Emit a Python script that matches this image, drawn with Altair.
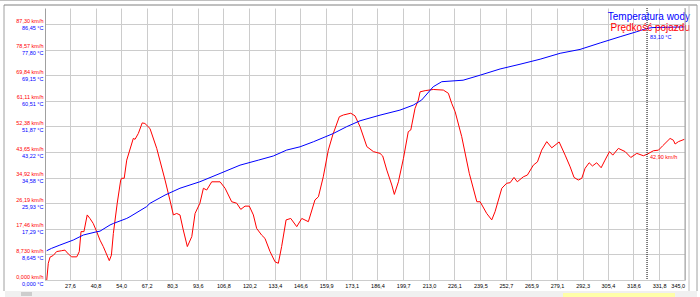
import altair as alt
import pandas as pd

# ---- data ----
speed_x = [15.6, 16.4, 17.3, 19.0, 20.7, 23.3, 25.0, 26.7, 28.5, 31.1, 32.4, 33.3, 34.8, 36.5, 37.9,
           39.6, 41.4, 43.1, 44.8, 47.9, 49.0, 50.0, 52.0, 53.8, 54.3, 55.6, 56.9, 60.3, 61.2, 62.9,
           64.9, 66.3, 68.9, 72.4, 76.7, 79.2, 81.0, 82.7, 84.4, 86.1, 88.2, 90.5, 92.2, 94.7, 96.5,
           98.2, 100.8, 105.1, 107.7, 111.1, 113.7, 115.8, 118.0, 120.2, 122.3, 124.0, 126.6, 128.3,
           130.9, 133.5, 135.2, 136.9, 139.2, 141.6, 144.7, 147.3, 150.7, 154.1, 155.9, 158.4, 161.0,
           163.3, 166.7, 168.8, 172.6, 174.8, 177.4, 180.9, 184.3, 187.7, 189.1, 191.2, 193.8, 195.1,
           197.2, 199.8, 202.3, 203.6, 205.8, 207.5, 208.4, 211.0, 215.2, 220.4, 223.0, 224.7, 226.5,
           229.9, 233.8, 237.7, 239.4, 242.8, 245.4, 247.1, 250.6, 253.1, 254.9, 256.9, 258.6, 261.7,
           263.8, 266.9, 269.0, 271.2, 273.8, 276.4, 280.2, 283.3, 285.9, 287.9, 290.1, 291.9, 293.6,
           295.7, 297.4, 299.6, 301.9, 303.9, 306.2, 307.9, 310.8, 314.3, 317.2, 320.3, 323.7, 325.6,
           328.9, 331.5, 333.7, 337.5, 339.2, 340.1, 341.8, 344.9]
speed_kmh = [0.0, 5.7, 7.8, 8.4, 9.7, 10.0, 10.2, 8.9, 7.9, 7.9, 9.7, 16.5, 16.5, 22.2, 21.0,
             19.3, 16.5, 13.6, 11.4, 6.6, 8.5, 15.9, 26.2, 34.1, 34.7, 34.7, 40.9, 48.3, 48.0, 50.0,
             53.6, 53.4, 51.7, 44.9, 34.1, 27.3, 22.2, 22.7, 22.2, 17.1, 11.4, 14.8, 22.7, 26.2, 31.3,
             30.7, 33.5, 33.5, 31.3, 26.7, 26.2, 24.1, 25.2, 25.2, 22.2, 17.6, 15.3, 14.2,
             9.7, 6.2, 5.7, 11.4, 20.5, 21.0, 18.2, 21.0, 19.9, 27.3, 28.4, 35.2, 44.3,
             49.5, 55.7, 56.3, 56.9, 56.0, 52.3, 45.5, 43.8, 43.2, 42.3, 37.5, 32.4, 29.2,
             33.5, 41.5, 50.6, 51.2, 58.6, 61.4, 64.2, 64.6, 65.0, 64.8, 63.7, 60.3, 57.4,
             48.9, 36.4, 26.7, 26.7, 22.7, 20.5, 23.3, 31.3, 33.0, 33.2, 35.0, 33.5, 35.2,
             35.8, 39.2, 40.3, 44.3, 47.2, 45.1, 47.1, 42.6, 38.6, 35.0, 34.1, 34.7, 38.1,
             40.0, 38.9, 40.0, 38.3, 40.9, 43.8, 42.6, 44.9, 43.8, 41.8, 43.2, 42.4, 42.9,
             44.1, 44.3, 45.8, 48.3, 47.7, 46.4, 47.2, 48.0]

temp_x = [15.6, 18.1, 22.4, 29.3, 34.5, 41.4, 43.1, 48.3, 50.0, 56.9, 58.6, 67.2, 68.9, 76.7,
          84.4, 94.7, 105.1, 115.4, 124.9, 132.6, 139.5, 146.4, 153.3, 163.6, 170.5, 177.4,
          187.7, 198.0, 204.9, 209.2, 215.2, 219.6, 230.6, 239.4, 249.7, 260.0, 270.4, 280.7,
          291.0, 301.4, 311.7, 320.3, 325.5, 328.7, 345.0]
temp_c = [9.9, 10.7, 11.8, 13.5, 15.2, 16.3, 16.5, 18.6, 19.1, 20.8, 21.4, 24.8, 25.9, 28.7,
          31.0, 33.2, 36.0, 38.8, 40.5, 41.9, 43.9, 45.0, 46.7, 49.5, 51.8, 53.8,
          55.7, 57.4, 59.1, 60.8, 65.3, 67.0, 67.5, 69.2, 71.3, 72.9, 74.6, 76.6,
          77.9, 80.1, 82.2, 83.9, 85.0, 85.3, 85.5]

x_ticks = [27.6, 40.8, 54.0, 67.2, 80.3, 93.6, 106.8, 120.2, 133.4, 146.6, 159.9, 173.1, 186.4,
           199.7, 213.0, 226.1, 239.5, 252.7, 265.9, 279.1, 292.3, 305.4, 318.6, 331.8, 345.0]
speed_ticks = [0.0, 8.73, 17.46, 26.19, 34.92, 43.65, 52.38, 61.11, 69.84, 78.57, 87.30]
temp_ticks = [0.0, 8.645, 17.29, 25.93, 34.58, 43.22, 51.87, 60.51, 69.15, 77.80, 86.45]

cursor_x = [325.6]
cursor_speed = [42.9]
cursor_temp = [83.1]
cursor_speed_label = ["42,90 km/h"]
cursor_temp_label = ["83,10 °C"]
legend_labels = ["Temperatura wody", "Prędkość pojazdu"]

X_DOMAIN = [14.7, 345.2]
SPEED_DOMAIN = [0, 92.8]
TEMP_DOMAIN = [0, 91.9]
RED = "#ff0000"
BLUE = "#0000ff"
FONT = "Liberation Sans"

speed_df = pd.DataFrame({"x": speed_x, "v": speed_kmh})
temp_df = pd.DataFrame({"x": temp_x, "t": temp_c})
cursor_df = pd.DataFrame({"x": cursor_x, "s": cursor_speed, "t": cursor_temp,
                          "sl": cursor_speed_label, "tl": cursor_temp_label})
legend_df = pd.DataFrame({"label": legend_labels})
one = pd.DataFrame({"a": [0]})

xscale = alt.Scale(domain=X_DOMAIN, nice=False, zero=False)
x_axis = alt.Axis(values=x_ticks, title=None, grid=True, gridColor="#cccccc",
                  ticks=False, domain=False, labelFont=FONT, labelFontSize=5.5,
                  labelColor="#000000", labelPadding=3, zindex=0,
                  labelExpr="replace(format(datum.value, '.1f'), '.', ',')")
X = alt.X("x:Q", scale=xscale, axis=x_axis)

speed_line = alt.Chart(speed_df).mark_line(color=RED, strokeWidth=1).encode(
    x=X,
    y=alt.Y("v:Q", scale=alt.Scale(domain=SPEED_DOMAIN, nice=False),
            axis=alt.Axis(values=speed_ticks, title=None, grid=True, gridColor="#cccccc",
                          ticks=False, domainColor="#a0a0a0", orient="left",
                          labelFont=FONT, labelFontSize=5.5, labelColor=RED,
                          labelOffset=-4, labelPadding=2, labelBaseline="middle",
                          labelExpr="replace(format(datum.value, '.4g'), '.', ',') + ' km/h'")),
)

temp_line = alt.Chart(temp_df).mark_line(color=BLUE, strokeWidth=1).encode(
    x=X,
    y=alt.Y("t:Q", scale=alt.Scale(domain=TEMP_DOMAIN, nice=False),
            axis=alt.Axis(values=temp_ticks, title=None, grid=False, ticks=False,
                          domain=False, orient="left",
                          labelFont=FONT, labelFontSize=5.5, labelColor=BLUE,
                          labelOffset=3, labelPadding=2, labelBaseline="middle",
                          labelExpr="replace(format(datum.value, '.4g'), '.', ',') + ' °C'")),
)

cursor_rule = alt.Chart(cursor_df).mark_rule(color="#000000", strokeDash=[1, 1], strokeWidth=1).encode(
    x=X
)

cursor_speed_text = alt.Chart(cursor_df).mark_text(
    align="left", baseline="middle", dx=3, dy=3, fontSize=5.5, font=FONT, color=RED
).encode(
    x=X,
    y=alt.Y("s:Q", scale=alt.Scale(domain=SPEED_DOMAIN, nice=False), axis=None),
    text="sl:N",
)

cursor_temp_text = alt.Chart(cursor_df).mark_text(
    align="left", baseline="middle", dx=3, dy=3, fontSize=5.5, font=FONT, color=BLUE
).encode(
    x=X,
    y=alt.Y("t:Q", scale=alt.Scale(domain=TEMP_DOMAIN, nice=False), axis=None),
    text="tl:N",
)

legend_temp = alt.Chart(legend_df.iloc[[0]]).mark_text(
    align="right", baseline="middle", fontSize=10, font=FONT, color=BLUE
).encode(x=alt.value(645), y=alt.value(9), text="label:N")
legend_speed = alt.Chart(legend_df.iloc[[1]]).mark_text(
    align="right", baseline="middle", fontSize=10, font=FONT, color=RED
).encode(x=alt.value(645), y=alt.value(20), text="label:N")

# window frame decorations (outside the plot)
scroll_bg = alt.Chart(one).mark_rect(color="#f0f0f0").encode(
    x=alt.value(-40), x2=alt.value(652), y=alt.value(283), y2=alt.value(289))
scroll_thumb = alt.Chart(one).mark_rect(color="#cdcdcd").encode(
    x=alt.value(-24), x2=alt.value(-13), y=alt.value(284), y2=alt.value(288))
scroll_yellow = alt.Chart(one).mark_rect(color="#ffffa8").encode(
    x=alt.value(518), x2=alt.value(630), y=alt.value(285), y2=alt.value(289))
cover = alt.Chart(one).mark_rect(color="#ffffff").encode(
    x=alt.value(642.5), x2=alt.value(651.5), y=alt.value(273), y2=alt.value(283))
left_border = alt.Chart(one).mark_rule(color="#a0a0a0").encode(
    x=alt.value(-41), y=alt.value(-3), y2=alt.value(283))
top_line1 = alt.Chart(one).mark_rule(color="#c0c0c0").encode(
    x=alt.value(-45), x2=alt.value(655), y=alt.value(-7.5))
top_line2 = alt.Chart(one).mark_rule(color="#808080").encode(
    x=alt.value(-41), x2=alt.value(652), y=alt.value(-3))
right_line1 = alt.Chart(one).mark_rule(color="#a0a0a0").encode(
    x=alt.value(640), y=alt.value(0), y2=alt.value(272))
right_line2 = alt.Chart(one).mark_rule(color="#c0c0c0").encode(
    x=alt.value(644), y=alt.value(-3), y2=alt.value(283))
right_line3 = alt.Chart(one).mark_rule(color="#a0a0a0").encode(
    x=alt.value(652), y=alt.value(-3), y2=alt.value(283))

chart = alt.layer(
    speed_line, temp_line, cursor_rule, cursor_speed_text, cursor_temp_text,
    legend_temp, legend_speed,
    scroll_bg, scroll_thumb, scroll_yellow, cover,
    left_border, top_line1, top_line2, right_line1, right_line2, right_line3,
).resolve_scale(y="independent").properties(
    width=640, height=272,
    padding={"left": 45, "top": 8, "right": 15, "bottom": 17},
    autosize=alt.AutoSizeParams(type="none"),
    background="#ffffff",
).configure_view(stroke=None)

chart.save("out.html", embed_options={"renderer": "svg", "actions": False})
